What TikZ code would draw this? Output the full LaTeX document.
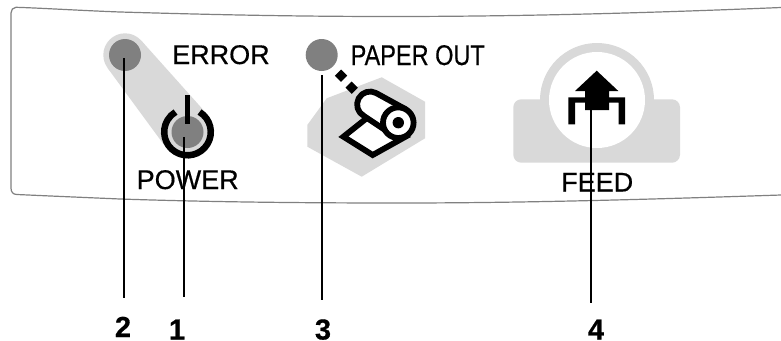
\documentclass[tikz,border=0pt]{standalone}
\usepackage{fontspec}
\setmainfont{Liberation Sans}
\newfontfamily\panelfont[FakeBold=0.5]{Liberation Sans}
\newfontfamily\numfont[FakeBold=0.5]{Liberation Sans Bold}
\definecolor{halo}{HTML}{D9D9D9}
\definecolor{led}{HTML}{808080}
\tikzset{
  x=1pt,y=1pt,
  halofill/.style={fill=halo,draw=none},
  ledfill/.style={fill=led,draw=none},
  inkfill/.style={fill=black,draw=none},
  iconline/.style={draw=black,line width=5.8pt,fill=white,line join=miter},
  panel/.style={draw=led,line width=1.2pt},
  leader/.style={draw=black,line width=2.3pt},
  panellabel/.style={inner sep=0pt,anchor=base west,font=\fontsize{27}{30}\selectfont\panelfont},
  numlabel/.style={inner sep=0pt,anchor=base,font=\fontsize{29}{30}\selectfont\numfont},
}
\begin{document}
\begin{tikzpicture}
\useasboundingbox (0,0) rectangle (781,-340);
\fill[white] (0,0) rectangle (781,-340);
% panel outline
\draw[panel] (781,-7.5) .. controls (600,-15) and (480,-16.5) .. (390,-16.5)
  .. controls (280,-16.5) and (190,-14) .. (120,-12)
  .. controls (80,-10.5) and (40,-8) .. (16,-7.3)
  .. controls (13,-7.3) and (11,-10) .. (11,-13) -- (11,-188)
  .. controls (11,-192) and (13,-194.5) .. (17,-194.5)
  .. controls (50,-196) and (85,-197.5) .. (120,-199)
  .. controls (210,-202) and (300,-203) .. (400,-203)
  .. controls (530,-203) and (660,-199) .. (781,-195);
% error/power halo
\fill[halofill] (141.2,-40.5) -- (207.2,-114.3) -- (166.1,-147.7) -- (107.5,-67.9) -- cycle;
\fill[halofill] (125,-55) circle (21.7);
\fill[halofill] (187.5,-132) circle (26.5);
\fill[ledfill] (125,-55) circle (16);
\fill[ledfill] (187.5,-132) circle (16);
% power symbol
\draw[black,line width=6.5pt] (187.5,-132) ++(59:23.3) arc (59:-239:23.3);
\fill[inkfill] (184.8,-95) rectangle (190.2,-124);
% paper out
\fill[halofill] (381.7,-77.3) -- (425,-101.7) -- (425,-138.3) -- (361.7,-176.7) -- (307.3,-146.7) -- (307.3,-125) -- (326.7,-98.3) -- cycle;
\fill[ledfill] (321.7,-55) circle (16);
\fill[inkfill] (341,-69.5) -- (347.2,-75.7) -- (341,-81.9) -- (334.8,-75.7) -- cycle;
\fill[inkfill] (351.7,-81.5) -- (357.9,-87.7) -- (351.7,-93.9) -- (345.5,-87.7) -- cycle;
\path[iconline] (343.4,-136.7) -- (372.7,-155) -- (405,-137) -- (367,-118) -- cycle;
\path[iconline,line join=round] (376,-93) -- (405.6,-109.2) -- (391,-134) -- (364,-116) arc (242:62:13) -- cycle;
\path[iconline] (398.3,-122.7) circle (15.3);
\fill[inkfill] (398.3,-122.7) circle (5.7);
% feed
\fill[halofill] (597,-100) circle (57);
\fill[halofill,rounded corners=8pt] (513.3,-99.3) rectangle (680,-162.7);
\fill[white] (597,-100) circle (48);
\fill[inkfill] (596.7,-70.7) -- (618.3,-91) -- (609,-91) -- (609,-97.3) -- (625,-97.3) -- (625,-124.3) -- (618.5,-124.3) -- (618.5,-102.7) -- (609,-102.7) -- (609,-110) -- (585,-110) -- (585,-102.7) -- (575,-102.7) -- (575,-124.3) -- (568.3,-124.3) -- (568.3,-97.3) -- (585,-97.3) -- (585,-91) -- (575,-91) -- cycle;
% panel texts
\node[panellabel] (error) at (172,-64) {ERROR};
\node[panellabel] (power) at (136.5,-189) {POWER};
\node[panellabel,font=\fontsize{28.5}{30}\selectfont\panelfont,xscale=0.825] (paperout) at (350.5,-65) {PAPER OUT};
\node[panellabel] (feed) at (561,-191.5) {FEED};
% numbers
\node[numlabel] (n2) at (123,-337) {2};
\node[numlabel] (n1) at (177,-339.5) {1};
\node[numlabel] (n3) at (323,-339.5) {3};
\node[numlabel] (n4) at (596,-339.5) {4};
% leaders
\coordinate (t2) at (123.7,-58);
\coordinate (b2) at (123.7,-297.5);
\coordinate (t1) at (184.3,-137);
\coordinate (b1) at (184.3,-297);
\coordinate (t3) at (321.7,-75);
\coordinate (b3) at (321.7,-299.5);
\coordinate (t4) at (590.7,-108);
\coordinate (b4) at (590.7,-303);
\draw[leader] (t2) -- (b2);
\draw[leader] (t1) -- (b1);
\draw[leader] (t3) -- (b3);
\draw[leader] (t4) -- (b4);
\end{tikzpicture}
\end{document}
